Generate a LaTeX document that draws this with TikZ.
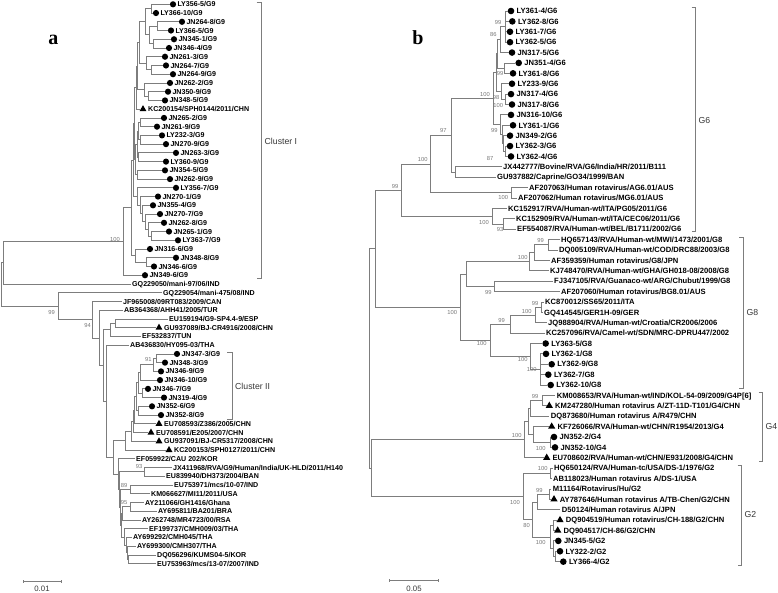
\documentclass[tikz,border=0pt]{standalone}
\usepackage{fontspec}
\setmainfont{Liberation Sans}
\newfontfamily\serifbold{Liberation Serif}
\usetikzlibrary{shapes.geometric}
\definecolor{brc}{RGB}{125,125,125}
\definecolor{bsc}{RGB}{120,120,120}
\definecolor{clc}{RGB}{55,55,55}
\newcommand\fontA{\fontsize{7.1}{8}\selectfont\bfseries}
\newcommand\fontB{\fontsize{7.6}{9}\selectfont\bfseries}
\newcommand\fontBS{\fontsize{5.8}{7}\selectfont}
\newcommand\fontCL{\fontsize{8.7}{10}\selectfont}
\tikzset{
 br/.style={draw=brc, line width=0.8pt},
 brk/.style={draw=brc, line width=0.8pt},
 dota/.style={circle, fill=black, inner sep=0pt, minimum size=6.2pt},
 dotb/.style={circle, fill=black, inner sep=0pt, minimum size=6.6pt},
 tria/.style={regular polygon, regular polygon sides=3, fill=black, inner sep=0pt, minimum size=8pt},
 trib/.style={regular polygon, regular polygon sides=3, fill=black, inner sep=0pt, minimum size=8.4pt},
 laba/.style={anchor=west, inner xsep=1.5pt, inner ysep=0.5pt, font=\fontA, text height=5.1pt, text depth=0pt},
 labb/.style={anchor=west, inner xsep=1.5pt, inner ysep=0.5pt, font=\fontB, text height=5.45pt, text depth=0pt},
 bs/.style={font=\fontBS, text=bsc, inner sep=0pt},
 cl/.style={font=\fontCL, text=clc, anchor=west, inner sep=0pt},
 scl/.style={font=\fontsize{7.8}{9}\selectfont, text=clc, inner sep=0pt},
 letter/.style={font=\serifbold\bfseries\fontsize{20}{24}\selectfont, anchor=base, inner sep=0pt},
}
\newcommand\LCa[4]{\node[dota] (#1) at (#2,#3) {}; \node[laba] (#1t) at ([xshift=2.8pt]#1.center) {#4};}
\newcommand\LTa[4]{\node[tria] (#1) at (#2,#3) {}; \node[laba] (#1t) at ([xshift=3.5pt]#1.center) {#4};}
\newcommand\LNa[4]{\node[laba, xshift=-1.5pt] (#1) at (#2,#3) {#4};}
\newcommand\LCb[4]{\node[dotb] (#1) at (#2,#3) {}; \node[labb] (#1t) at ([xshift=4pt]#1.center) {#4};}
\newcommand\LTb[4]{\node[trib] (#1) at (#2,#3) {}; \node[labb] (#1t) at ([xshift=4.2pt]#1.center) {#4};}
\newcommand\LNb[4]{\node[labb, xshift=-1.5pt] (#1) at (#2,#3) {#4};}
\newcommand\edg[2]{\draw[br] (#1) |- (#2);}
\begin{document}
\begin{tikzpicture}[x=1pt,y=-1pt]
\useasboundingbox (0,0) rectangle (778,593);
\fill[white] (0,0) rectangle (778,593);
% ---------------- panel a ----------------
\node[letter] (la) at (53.3,45) {a};
\LCa{a1}{173}{4.3}{LY356-5/G9}
\LCa{a2}{156}{13.04}{LY366-10/G9}
\LCa{a3}{182}{21.78}{JN264-8/G9}
\LCa{a4}{171}{30.52}{LY366-5/G9}
\LCa{a5}{174}{39.26}{JN345-1/G9}
\LCa{a6}{169}{48.0}{JN346-4/G9}
\LCa{a7}{165}{56.74}{JN261-3/G9}
\LCa{a8}{166}{65.48}{JN264-7/G9}
\LCa{a9}{173}{74.22}{JN264-9/G9}
\LCa{a10}{170}{82.96}{JN262-2/G9}
\LCa{a11}{168}{91.7}{JN350-9/G9}
\LCa{a12}{165}{100.44}{JN348-5/G9}
\LTa{a13}{143}{109.18}{KC200154/SPH0144/2011/CHN}
\LCa{a14}{164}{117.92}{JN265-2/G9}
\LCa{a15}{157}{126.66}{JN261-9/G9}
\LCa{a16}{162}{135.4}{LY232-3/G9}
\LCa{a17}{166}{144.14}{JN270-9/G9}
\LCa{a18}{176}{152.88}{JN263-3/G9}
\LCa{a19}{166}{161.62}{LY360-9/G9}
\LCa{a20}{165}{170.36}{JN354-5/G9}
\LCa{a21}{170}{179.1}{JN262-9/G9}
\LCa{a22}{176}{187.84}{LY356-7/G9}
\LCa{a23}{158}{196.58}{JN270-1/G9}
\LCa{a24}{153}{205.32}{JN355-4/G9}
\LCa{a25}{160}{214.06}{JN270-7/G9}
\LCa{a26}{164}{222.8}{JN262-8/G9}
\LCa{a27}{169}{231.54}{JN265-1/G9}
\LCa{a28}{178}{240.28}{LY363-7/G9}
\LCa{a29}{150}{249.02}{JN316-6/G9}
\LCa{a30}{176}{257.76}{JN348-8/G9}
\LCa{a31}{154}{266.5}{JN346-6/G9}
\LCa{a32}{145}{275.24}{JN349-6/G9}
\LNa{a33}{132}{283.98}{GQ229050/mani-97/06/IND}
\LNa{a34}{163}{292.72}{GQ229054/mani-475/08/IND}
\LNa{a35}{123}{301.46}{JF965008/09RT083/2009/CAN}
\LNa{a36}{124}{310.2}{AB364368/AHH41/2005/TUR}
\LNa{a37}{169}{318.94}{EU159194/G9-SP4.4-9/ESP}
\LTa{a38}{159}{327.68}{GU937089/BJ-CR4916/2008/CHN}
\LNa{a39}{142}{336.42}{EF532837/TUN}
\LNa{a40}{130}{345.16}{AB436830/HY095-03/THA}
\LCa{a41}{177}{353.9}{JN347-3/G9}
\LCa{a42}{165}{362.64}{JN348-3/G9}
\LCa{a43}{161}{371.38}{JN346-9/G9}
\LCa{a44}{160}{380.12}{JN346-10/G9}
\LCa{a45}{148}{388.86}{JN346-7/G9}
\LCa{a46}{164}{397.6}{JN319-4/G9}
\LCa{a47}{152}{406.34}{JN352-6/G9}
\LCa{a48}{161}{415.08}{JN352-8/G9}
\LTa{a49}{159}{423.82}{EU708593/Z386/2005/CHN}
\LTa{a50}{151}{432.56}{EU708591/E205/2007/CHN}
\LTa{a51}{159}{441.3}{GU937091/BJ-CR5317/2008/CHN}
\LTa{a52}{169}{450.04}{KC200153/SPH0127/2011/CHN}
\LNa{a53}{136}{458.78}{EF059922/CAU 202/KOR}
\LNa{a54}{173}{467.52}{JX411968/RVA/G9/Human/India/UK-HLD/2011/H140}
\LNa{a55}{166}{476.26}{EU839940/DH373/2004/BAN}
\LNa{a56}{174}{485.0}{EU753971/mcs/10-07/IND}
\LNa{a57}{151}{493.74}{KM066627/MI11/2011/USA}
\LNa{a58}{145}{502.48}{AY211066/GH1416/Ghana}
\LNa{a59}{158}{511.22}{AY695811/BA201/BRA}
\LNa{a60}{142}{519.96}{AY262748/MR4723/00/RSA}
\LNa{a61}{149}{528.7}{EF199737/CMH009/03/THA}
\LNa{a62}{133}{537.44}{AY699292/CMH045/THA}
\LNa{a63}{137}{546.18}{AY699300/CMH307/THA}
\LNa{a64}{157}{554.92}{DQ056296/KUMS04-5/KOR}
\LNa{a65}{157}{563.66}{EU753963/mcs/13-07/2007/IND}
\coordinate (iA1) at (151.7,8.67);
\coordinate (iA2) at (157,26.15);
\coordinate (iA3) at (153,43.63);
\coordinate (iA4) at (149,34.89);
\coordinate (iA5) at (145,21.78);
\coordinate (iB1) at (151,69.85);
\coordinate (iB2) at (146.7,63.3);
\coordinate (iC1a) at (148,96.07);
\coordinate (iC2a) at (144,89.52);
\coordinate (iD1) at (140,122.29);
\coordinate (iE1) at (140,139.77);
\coordinate (iF1) at (138.3,157.25);
\coordinate (iG1) at (137,174.73);
\coordinate (iP1) at (139,42.54);
\coordinate (iP2) at (137.5,66.03);
\coordinate (iP3) at (136,87.6);
\coordinate (iP4) at (138,131.03);
\coordinate (iP5) at (137,144.14);
\coordinate (iP6) at (135.5,159.44);
\coordinate (iP7) at (134.5,123.52);
\coordinate (iN28) at (151,235.91);
\coordinate (iN27) at (148,229.36);
\coordinate (iN26) at (145,221.71);
\coordinate (iN25) at (142,213.52);
\coordinate (iN24) at (140,205.05);
\coordinate (iN23) at (137,196.45);
\coordinate (iC3) at (133.5,159.99);
\coordinate (iC5) at (146.7,262.13);
\coordinate (iC4) at (135,255.58);
\coordinate (iC2) at (131.5,207.79);
\coordinate (iC1) at (123.3,241.52);
\coordinate (iX) at (3.3,262.75);
\coordinate (iS1) at (115,323.31);
\coordinate (iS) at (110,329.87);
\coordinate (iI1) at (156.7,358.27);
\coordinate (iI2) at (153.3,364.83);
\coordinate (iI3) at (140,372.47);
\coordinate (iI4) at (142,393.23);
\coordinate (iI5) at (138,382.85);
\coordinate (iI6) at (138.3,410.71);
\coordinate (iI7) at (136,396.78);
\coordinate (iI8) at (134.5,410.3);
\coordinate (iI9) at (133,421.43);
\coordinate (iI10) at (131.5,431.37);
\coordinate (iI11) at (125,440.7);
\coordinate (iJ1) at (144,471.89);
\coordinate (iJ2) at (130,489.37);
\coordinate (iJ3) at (130,506.85);
\coordinate (iJ4) at (128.3,559.29);
\coordinate (iJ5) at (127.5,552.74);
\coordinate (iJ6) at (126.7,545.09);
\coordinate (iJ7) at (124,536.9);
\coordinate (iJ8) at (122.5,513.4);
\coordinate (iJ9) at (121.5,525.15);
\coordinate (iJ10) at (120.5,507.26);
\coordinate (iJ11) at (119.5,489.58);
\coordinate (iJ12) at (118.5,474.18);
\coordinate (iQ) at (113.3,457.44);
\coordinate (iR) at (106,401.3);
\coordinate (iV) at (103,365.59);
\coordinate (iW) at (99.5,337.9);
\coordinate (iZ) at (92.7,319.68);
\coordinate (iN99) at (58.3,306.2);
\coordinate (iRoot) at (1.7,284.48);
\edg{iA1}{a1} \edg{iA1}{a2}
\edg{iA2}{a3} \edg{iA2}{a4}
\edg{iA3}{a5} \edg{iA3}{a6}
\edg{iA4}{iA2} \edg{iA4}{iA3}
\edg{iA5}{iA1} \edg{iA5}{iA4}
\edg{iB1}{a8} \edg{iB1}{a9}
\edg{iB2}{a7} \edg{iB2}{iB1}
\edg{iC1a}{a11} \edg{iC1a}{a12}
\edg{iC2a}{a10} \edg{iC2a}{iC1a}
\edg{iD1}{a14} \edg{iD1}{a15}
\edg{iE1}{a16} \edg{iE1}{a17}
\edg{iF1}{a18} \edg{iF1}{a19}
\edg{iG1}{a20} \edg{iG1}{a21}
\edg{iP1}{iA5} \edg{iP1}{iB2}
\edg{iP2}{iP1} \edg{iP2}{iC2a}
\edg{iP3}{iP2} \edg{iP3}{a13}
\edg{iP4}{iD1} \edg{iP4}{iE1}
\edg{iP5}{iP4} \edg{iP5}{iF1}
\edg{iP6}{iP5} \edg{iP6}{iG1}
\edg{iP7}{iP3} \edg{iP7}{iP6}
\edg{iN28}{a27} \edg{iN28}{a28}
\edg{iN27}{a26} \edg{iN27}{iN28}
\edg{iN26}{a25} \edg{iN26}{iN27}
\edg{iN25}{a24} \edg{iN25}{iN26}
\edg{iN24}{a23} \edg{iN24}{iN25}
\edg{iN23}{a22} \edg{iN23}{iN24}
\edg{iC3}{iP7} \edg{iC3}{iN23}
\edg{iC5}{a30} \edg{iC5}{a31}
\edg{iC4}{a29} \edg{iC4}{iC5}
\edg{iC2}{iC3} \edg{iC2}{iC4}
\edg{iC1}{iC2} \edg{iC1}{a32}
\edg{iX}{iC1} \edg{iX}{a33}
\edg{iS1}{a37} \edg{iS1}{a38}
\edg{iS}{iS1} \edg{iS}{a39}
\edg{iI1}{a41} \edg{iI1}{a42}
\edg{iI2}{iI1} \edg{iI2}{a43}
\edg{iI3}{iI2} \edg{iI3}{a44}
\edg{iI4}{a45} \edg{iI4}{a46}
\edg{iI5}{iI3} \edg{iI5}{iI4}
\edg{iI6}{a47} \edg{iI6}{a48}
\edg{iI7}{iI5} \edg{iI7}{iI6}
\edg{iI8}{iI7} \edg{iI8}{a49}
\edg{iI9}{iI8} \edg{iI9}{a50}
\edg{iI10}{iI9} \edg{iI10}{a51}
\edg{iI11}{iI10} \edg{iI11}{a52}
\edg{iJ1}{a54} \edg{iJ1}{a55}
\edg{iJ2}{a56} \edg{iJ2}{a57}
\edg{iJ3}{a58} \edg{iJ3}{a59}
\edg{iJ4}{a64} \edg{iJ4}{a65}
\edg{iJ5}{a63} \edg{iJ5}{iJ4}
\edg{iJ6}{a62} \edg{iJ6}{iJ5}
\edg{iJ7}{a61} \edg{iJ7}{iJ6}
\edg{iJ8}{iJ3} \edg{iJ8}{a60}
\edg{iJ9}{iJ8} \edg{iJ9}{iJ7}
\edg{iJ10}{iJ2} \edg{iJ10}{iJ9}
\edg{iJ11}{iJ1} \edg{iJ11}{iJ10}
\edg{iJ12}{a53} \edg{iJ12}{iJ11}
\edg{iQ}{iI11} \edg{iQ}{iJ12}
\edg{iR}{a40} \edg{iR}{iQ}
\edg{iV}{iS} \edg{iV}{iR}
\edg{iW}{a36} \edg{iW}{iV}
\edg{iZ}{a35} \edg{iZ}{iW}
\edg{iN99}{a34} \edg{iN99}{iZ}
\edg{iRoot}{iX} \edg{iRoot}{iN99}
\node[bs] (ba1) at (115,239.5) {100};
\node[bs] (ba2) at (51.7,312.3) {99};
\node[bs] (ba3) at (87.7,325.7) {94};
\node[bs] (ba4) at (148.3,360) {91};
\node[bs] (ba5) at (139,467) {93};
\node[bs] (ba6) at (124,485.5) {89};
\node[bs] (ba7) at (124,502.5) {95};
\draw[brk] (256.7,2) -- (261.7,2) -- (261.7,278) -- (256.7,278);
\node[cl] (cI) at (264.5,141) {Cluster I};
\draw[brk] (227.3,352) -- (232,352) -- (232,419) -- (227.3,419);
\node[cl] (cII) at (235,386) {Cluster II};
\coordinate (sa1) at (23,581.7); \coordinate (sa2) at (61,581.7);
\draw[brc, line width=0.8pt] (sa1) -- (sa2);
\draw[brc, line width=0.8pt] ([yshift=1.5pt]sa1) -- ([yshift=-1.5pt]sa1);
\draw[brc, line width=0.8pt] ([yshift=1.5pt]sa2) -- ([yshift=-1.5pt]sa2);
\node[scl] (sat) at (42,589) {0.01};
% ---------------- panel b ----------------
\node[letter] (lb) at (418,45) {b};
\LCb{b1}{511}{11}{LY361-4/G6}
\LCb{b2}{512.3}{21.39}{LY362-8/G6}
\LCb{b3}{510}{31.78}{LY361-7/G6}
\LCb{b4}{510}{42.17}{LY362-5/G6}
\LCb{b5}{512}{52.56}{JN317-5/G6}
\LCb{b6}{518.7}{62.95}{JN351-4/G6}
\LCb{b7}{513}{73.34}{LY361-8/G6}
\LCb{b8}{512}{83.73}{LY233-9/G6}
\LCb{b9}{511}{94.12}{JN317-4/G6}
\LCb{b10}{512}{104.51}{JN317-8/G6}
\LCb{b11}{511}{114.9}{JN316-10/G6}
\LCb{b12}{513}{125.29}{LY361-1/G6}
\LCb{b13}{510}{135.68}{JN349-2/G6}
\LCb{b14}{510}{146.07}{LY362-3/G6}
\LCb{b15}{511}{156.46}{LY362-4/G6}
\LNb{b16}{503}{166.85}{JX442777/Bovine/RVA/G6/India/HR/2011/B111}
\LNb{b17}{497}{177.24}{GU937882/Caprine/GO34/1999/BAN}
\LNb{b18}{529}{187.63}{AF207063/Human rotavirus/AG6.01/AUS}
\LNb{b19}{518}{198.02}{AF207062/Human rotavirus/MG6.01/AUS}
\LNb{b20}{508}{208.41}{KC152917/RVA/Human-wt/ITA/PG05/2011/G6}
\LNb{b21}{516}{218.8}{KC152909/RVA/Human-wt/ITA/CEC06/2011/G6}
\LNb{b22}{517}{229.19}{EF554087/RVA/Human-wt/BEL/B1711/2002/G6}
\LNb{b23}{561}{239.58}{HQ657143/RVA/Human-wt/MWI/1473/2001/G8}
\LNb{b24}{559}{249.97}{DQ005109/RVA/Human-wt/COD/DRC88/2003/G8}
\LNb{b25}{551}{260.36}{AF359359/Human rotavirus/G8/JPN}
\LNb{b26}{550}{270.75}{KJ748470/RVA/Human-wt/GHA/GH018-08/2008/G8}
\LNb{b27}{554}{281.14}{FJ347105/RVA/Guanaco-wt/ARG/Chubut/1999/G8}
\LNb{b28}{561}{291.53}{AF207060/Human rotavirus/BG8.01/AUS}
\LNb{b29}{545}{301.92}{KC870012/SS65/2011/ITA}
\LNb{b30}{544}{312.31}{GQ414545/GER1H-09/GER}
\LNb{b31}{548}{322.7}{JQ988904/RVA/Human-wt/Croatia/CR2006/2006}
\LNb{b32}{546}{333.09}{KC257096/RVA/Camel-wt/SDN/MRC-DPRU447/2002}
\LCb{b33}{545.7}{343.48}{LY363-5/G8}
\LCb{b34}{546}{353.87}{LY362-1/G8}
\LCb{b35}{551.7}{364.26}{LY362-9/G8}
\LCb{b36}{548.3}{374.65}{LY362-7/G8}
\LCb{b37}{550.7}{385.04}{LY362-10/G8}
\LNb{b38}{556.7}{395.43}{KM008653/RVA/Human-wt/IND/KOL-54-09/2009/G4P[6]}
\LTb{b39}{549.3}{405.82}{KM247280/Human rotavirus A/ZT-11D-T101/G4/CHN}
\LNb{b40}{550.7}{416.21}{DQ873680/Human rotavirus A/R479/CHN}
\LTb{b41}{551.7}{426.6}{KF726066/RVA/Human-wt/CHN/R1954/2013/G4}
\LCb{b42}{554}{436.99}{JN352-2/G4}
\LCb{b43}{555}{447.38}{JN352-10/G4}
\LTb{b44}{546.7}{457.77}{EU708602/RVA/Human-wt/CHN/E931/2008/G4/CHN}
\LNb{b45}{554}{468.16}{HQ650124/RVA/Human-tc/USA/DS-1/1976/G2}
\LNb{b46}{553}{478.55}{AB118023/Human rotavirus A/DS-1/USA}
\LNb{b47}{552.7}{488.94}{M11164/Rotavirus/Hu/G2}
\LTb{b48}{554}{499.33}{AY787646/Human rotavirus A/TB-Chen/G2/CHN}
\LNb{b49}{561.7}{509.72}{D50124/Human rotavirus A/JPN}
\LTb{b50}{560}{520.11}{DQ904519/Human rotavirus/CH-188/G2/CHN}
\LTb{b51}{557.7}{530.5}{DQ904517/CH-86/G2/CHN}
\LCb{b52}{558.3}{540.89}{JN345-5/G2}
\LCb{b53}{560}{551.28}{LY322-2/G2}
\LCb{b54}{563.3}{561.67}{LY366-4/G2}
\coordinate (ja1) at (505,26.59);
\coordinate (ja2) at (500.7,39.58);
\coordinate (ja3) at (504,68.15);
\coordinate (ja4) at (497.5,53.87);
\coordinate (ja6) at (505,99.32);
\coordinate (ja5) at (501.7,91.53);
\coordinate (jU) at (496,72.7);
\coordinate (ja8) at (505,151.27);
\coordinate (ja10) at (503.5,143.48);
\coordinate (ja9) at (502.5,134.39);
\coordinate (ja7) at (500,124.64);
\coordinate (jT) at (493,98.67);
\coordinate (jJG) at (455,172.05);
\coordinate (jN97) at (451.7,135.36);
\coordinate (jAF) at (511.7,192.83);
\coordinate (jN100) at (430,164.1);
\coordinate (jKCs) at (503.3,224.0);
\coordinate (jKC) at (492.3,216.2);
\coordinate (jG6) at (401.7,190.15);
\coordinate (jHQ) at (548.3,244.78);
\coordinate (jN1) at (534,252.57);
\coordinate (jN2) at (529.3,261.66);
\coordinate (jFJ) at (494,286.34);
\coordinate (jUG) at (466.7,274.0);
\coordinate (jK1) at (541.7,307.12);
\coordinate (jK2) at (535,314.91);
\coordinate (jK3) at (510,324.0);
\coordinate (jL1) at (540.7,369.46);
\coordinate (jL2) at (530,356.47);
\coordinate (jLG) at (490,340.24);
\coordinate (jG8) at (460,307.12);
\coordinate (jGG) at (375,248.64);
\coordinate (jKM) at (542.3,400.63);
\coordinate (jM1) at (530,408.42);
\coordinate (jJN) at (550,442.19);
\coordinate (jM2) at (533,434.4);
\coordinate (jM3) at (528,421.41);
\coordinate (jG4) at (524.3,439.59);
\coordinate (jH) at (550,473.36);
\coordinate (jP1) at (549,494.14);
\coordinate (jP2) at (537.3,501.93);
\coordinate (jQ2) at (553,525.31);
\coordinate (jQ4) at (555,556.48);
\coordinate (jQ3) at (553.5,548.68);
\coordinate (jQ1) at (550.7,537.0);
\coordinate (jP3) at (532.7,519.47);
\coordinate (jG2) at (523.3,496.41);
\coordinate (jG42) at (371.5,468.0);
\coordinate (jRoot) at (369.5,358.3);
\edg{ja1}{b1} \edg{ja1}{b2} \edg{ja1}{b3} \edg{ja1}{b4}
\edg{ja2}{ja1} \edg{ja2}{b5}
\edg{ja3}{b6} \edg{ja3}{b7}
\edg{ja4}{ja2} \edg{ja4}{ja3}
\edg{ja6}{b9} \edg{ja6}{b10}
\edg{ja5}{b8} \edg{ja5}{ja6}
\edg{jU}{ja4} \edg{jU}{ja5}
\edg{ja8}{b14} \edg{ja8}{b15}
\edg{ja10}{b13} \edg{ja10}{ja8}
\edg{ja9}{b12} \edg{ja9}{ja10}
\edg{ja7}{b11} \edg{ja7}{ja9}
\edg{jT}{jU} \edg{jT}{ja7}
\edg{jJG}{b16} \edg{jJG}{b17}
\edg{jN97}{jT} \edg{jN97}{jJG}
\edg{jAF}{b18} \edg{jAF}{b19}
\edg{jN100}{jN97} \edg{jN100}{jAF}
\edg{jKCs}{b21} \edg{jKCs}{b22}
\edg{jKC}{b20} \edg{jKC}{jKCs}
\edg{jG6}{jN100} \edg{jG6}{jKC}
\edg{jHQ}{b23} \edg{jHQ}{b24}
\edg{jN1}{jHQ} \edg{jN1}{b25}
\edg{jN2}{jN1} \edg{jN2}{b26}
\edg{jFJ}{b27} \edg{jFJ}{b28}
\edg{jUG}{jN2} \edg{jUG}{jFJ}
\edg{jK1}{b29} \edg{jK1}{b30}
\edg{jK2}{jK1} \edg{jK2}{b31}
\edg{jK3}{jK2} \edg{jK3}{b32}
\edg{jL1}{b34} \edg{jL1}{b35} \edg{jL1}{b36} \edg{jL1}{b37}
\edg{jL2}{b33} \edg{jL2}{jL1}
\edg{jLG}{jK3} \edg{jLG}{jL2}
\edg{jG8}{jUG} \edg{jG8}{jLG}
\edg{jGG}{jG6} \edg{jGG}{jG8}
\edg{jKM}{b38} \edg{jKM}{b39}
\edg{jM1}{jKM} \edg{jM1}{b40}
\edg{jJN}{b42} \edg{jJN}{b43}
\edg{jM2}{b41} \edg{jM2}{jJN}
\edg{jM3}{jM1} \edg{jM3}{jM2}
\edg{jG4}{jM3} \edg{jG4}{b44}
\edg{jH}{b45} \edg{jH}{b46}
\edg{jP1}{b47} \edg{jP1}{b48}
\edg{jP2}{jP1} \edg{jP2}{b49}
\edg{jQ2}{b50} \edg{jQ2}{b51}
\edg{jQ4}{b53} \edg{jQ4}{b54}
\edg{jQ3}{b52} \edg{jQ3}{jQ4}
\edg{jQ1}{jQ2} \edg{jQ1}{jQ3}
\edg{jP3}{jP2} \edg{jP3}{jQ1}
\edg{jG2}{jH} \edg{jG2}{jP3}
\edg{jG42}{jG4} \edg{jG42}{jG2}
\edg{jRoot}{jGG} \edg{jRoot}{jG42}
\node[bs] (bb1) at (498,22.7) {99};
\node[bs] (bb2) at (493.3,35) {86};
\node[bs] (bb3) at (500,74) {99};
\node[bs] (bb4) at (485,94.3) {100};
\node[bs] (bb5) at (496,97.3) {98};
\node[bs] (bb6) at (498.3,106) {100};
\node[bs] (bb7) at (494.3,130.7) {99};
\node[bs] (bb8) at (443.3,131) {97};
\node[bs] (bb9) at (490,158.3) {87};
\node[bs] (bb10) at (422.7,160) {100};
\node[bs] (bb11) at (395,186.7) {99};
\node[bs] (bb12) at (503.3,197.7) {100};
\node[bs] (bb13) at (484,222.7) {100};
\node[bs] (bb14) at (500,230) {93};
\node[bs] (bb15) at (540.7,241) {99};
\node[bs] (bb16) at (522.7,257.7) {100};
\node[bs] (bb17) at (488.3,292.7) {99};
\node[bs] (bb18) at (452.3,312.7) {100};
\node[bs] (bb19) at (535,303.3) {99};
\node[bs] (bb20) at (526.7,311.7) {100};
\node[bs] (bb21) at (501.7,320.7) {99};
\node[bs] (bb22) at (481.7,344) {100};
\node[bs] (bb23) at (522.7,359.3) {100};
\node[bs] (bb24) at (531.7,369.3) {100};
\node[bs] (bb25) at (535,396.7) {99};
\node[bs] (bb26) at (516.7,435.7) {100};
\node[bs] (bb27) at (540.7,448.3) {100};
\node[bs] (bb28) at (542.7,468.3) {100};
\node[bs] (bb29) at (539.3,490) {99};
\node[bs] (bb30) at (515,502.3) {100};
\node[bs] (bb31) at (526.7,525) {80};
\node[bs] (bb32) at (540.7,542.3) {100};
\draw[brk] (691.7,7.7) -- (695.7,7.7) -- (695.7,231.7) -- (691.7,231.7);
\node[cl] (g6) at (698.5,120.7) {G6};
\draw[brk] (739,237.7) -- (743,237.7) -- (743,388) -- (739,388);
\node[cl] (g8) at (746.5,312.7) {G8};
\draw[brk] (758.7,392.7) -- (762.7,392.7) -- (762.7,461.7) -- (758.7,461.7);
\node[cl] (g4) at (765.5,427) {G4};
\draw[brk] (737.7,465.7) -- (741.7,465.7) -- (741.7,565.7) -- (737.7,565.7);
\node[cl] (g2) at (744.5,515) {G2};
\coordinate (sb1) at (389.3,580.7); \coordinate (sb2) at (438.3,580.7);
\draw[brc, line width=0.8pt] (sb1) -- (sb2);
\draw[brc, line width=0.8pt] ([yshift=1.5pt]sb1) -- ([yshift=-1.5pt]sb1);
\draw[brc, line width=0.8pt] ([yshift=1.5pt]sb2) -- ([yshift=-1.5pt]sb2);
\node[scl] (sbt) at (414,589) {0.05};
\end{tikzpicture}
\end{document}
